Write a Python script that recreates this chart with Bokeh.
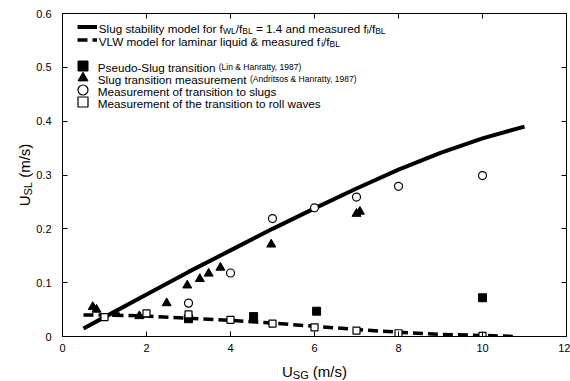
import math
from bokeh.plotting import figure
from bokeh.models import (Range1d, LinearAxis, FixedTicker, Label, Legend, LegendItem,
                          CustomJSTickFormatter)
from bokeh.embed import file_html
from bokeh.resources import INLINE

# ---------------- data ----------------
slug_model_x = [0.5, 1, 2, 3, 4, 5, 6, 7, 8, 9, 10, 11]
slug_model_y = [0.015, 0.036, 0.078, 0.12, 0.16, 0.2, 0.238, 0.275, 0.31, 0.341, 0.368, 0.39]

vlw_model_x = [0.5, 1, 2, 3, 4, 5, 6, 7, 8, 9, 10, 10.8]
vlw_model_y = [0.04, 0.04, 0.038, 0.034, 0.03, 0.025, 0.019, 0.013, 0.008, 0.004, 0.002, 0.0]

pseudo_slug_x = [3.0, 4.55, 6.05, 10.0]
pseudo_slug_y = [0.033, 0.037, 0.047, 0.072]

andritsos_x = [0.72, 0.81, 1.29, 1.83, 2.48, 2.97, 3.27, 3.48, 3.76, 4.97, 7.0, 7.08]
andritsos_y = [0.055, 0.05, 0.042, 0.038, 0.062, 0.095, 0.107, 0.117, 0.128, 0.171, 0.228, 0.232]

slug_meas_x = [3.0, 4.0, 5.0, 6.0, 7.0, 8.0, 10.0]
slug_meas_y = [0.062, 0.118, 0.219, 0.239, 0.259, 0.279, 0.299]

roll_x = [1.0, 2.0, 3.0, 4.0, 5.0, 6.0, 7.0, 8.0, 10.0]
roll_y = [0.036, 0.043, 0.041, 0.031, 0.024, 0.017, 0.011, 0.006, 0.001]

x_ticks = [0, 2, 4, 6, 8, 10, 12]
y_ticks = [0, 0.1, 0.2, 0.3, 0.4, 0.5, 0.6]
y_tick_labels = ["0", "0.1", "0.2", "0.3", "0.4", "0.5", "0.6"]

X_MIN, X_MAX, Y_MIN, Y_MAX = 0, 12, 0, 0.6
FRAME_W, FRAME_H = 504, 323

FONT = "Liberation Sans"

# Arial / Liberation Sans advance widths (per 1000 em) for layout of rich text
W = {' ': 278, '(': 333, ')': 333, ',': 278, '-': 333, '.': 278, '/': 278, '=': 584, '&': 667,
     'A': 667, 'B': 667, 'C': 722, 'D': 722, 'E': 667, 'F': 611, 'G': 778, 'H': 722, 'I': 278,
     'L': 556, 'M': 833, 'P': 667, 'R': 722, 'S': 667, 'U': 722, 'V': 667, 'W': 944,
     'a': 556, 'b': 556, 'c': 500, 'd': 556, 'e': 556, 'f': 278, 'g': 556, 'h': 556, 'i': 222,
     'k': 500, 'l': 222, 'm': 833, 'n': 556, 'o': 556, 'p': 556, 'r': 333, 's': 500, 't': 278,
     'u': 556, 'v': 500, 'w': 722, 'y': 500}


def tw(s, size):
    return sum(W.get(c, 556) for c in s) * size / 1000.0


p = figure(frame_width=FRAME_W, frame_height=FRAME_H, output_backend="svg", toolbar_location=None,
           x_range=Range1d(X_MIN, X_MAX), y_range=Range1d(Y_MIN, Y_MAX),
           min_border_left=62, min_border_right=4, min_border_top=13, min_border_bottom=45)
p.grid.visible = False
p.outline_line_color = "black"
p.outline_line_width = 1
p.background_fill_color = "white"
p.border_fill_color = "white"


def style_axis(ax, ticks, show_labels, overrides=None):
    ax.ticker = FixedTicker(ticks=ticks)
    ax.major_tick_in = 5
    ax.major_tick_out = 0
    ax.minor_tick_line_color = None
    ax.axis_line_color = "black"
    ax.major_tick_line_color = "black"
    ax.major_label_text_font = FONT
    ax.major_label_text_color = "black"
    ax.major_label_text_font_size = "11px"
    if show_labels:
        if overrides:
            ax.major_label_overrides = overrides
    else:
        ax.formatter = CustomJSTickFormatter(code="return ''")
        ax.major_label_standoff = 0
        ax.major_label_text_font_size = "1px"


style_axis(p.xaxis[0], x_ticks, True)
p.xaxis[0].major_label_standoff = 7
style_axis(p.yaxis[0], y_ticks, True, {t: l for t, l in zip(y_ticks, y_tick_labels)})
p.yaxis[0].major_label_standoff = 11

top_ax = LinearAxis()
style_axis(top_ax, x_ticks, False)
p.add_layout(top_ax, "above")
right_ax = LinearAxis()
style_axis(right_ax, y_ticks, False)
p.add_layout(right_ax, "right")

# ---------------- glyphs ----------------
r_slug = p.line(slug_model_x, slug_model_y, line_width=4, line_color="black")
r_vlw = p.line(vlw_model_x, vlw_model_y, line_width=3.5, line_color="black", line_dash="10 5")
r_pseudo = p.scatter(pseudo_slug_x, pseudo_slug_y, marker="square", size=8,
                     fill_color="black", line_color="black")
r_andr = p.scatter(andritsos_x, andritsos_y, marker="triangle", size=9,
                   fill_color="black", line_color="black")
r_circ = p.scatter(slug_meas_x, slug_meas_y, marker="circle", size=8,
                   fill_color="white", line_color="black", line_width=1.2)
r_roll = p.scatter(roll_x, roll_y, marker="square", size=7,
                   fill_color="white", line_color="black", line_width=1.2)


# ---------------- legend icons ----------------
def icon(renderer, vx, vy, gw, gh):
    lg = Legend(items=[LegendItem(label=" ", renderers=[renderer])],
                location=(vx, vy), glyph_width=gw, glyph_height=gh,
                padding=0, margin=0, spacing=0, label_standoff=0, label_width=0,
                label_height=0, label_text_font_size="1px",
                border_line_color=None, background_fill_alpha=0)
    p.add_layout(lg)


icon(r_slug, 14.7, 297.2, 20, 25)
icon(r_vlw, 14.7, 284.2, 20, 25)
icon(r_pseudo, 8.2, 257.8, 25, 25)
icon(r_andr, 8.2, 246.2, 25, 25)
icon(r_circ, 8.2, 234.2, 25, 25)
icon(r_roll, 8.2, 222.2, 25, 25)


# ---------------- rich texts ----------------
def rich(pieces, x, y, angle=0.0, anchor="left", outside=False):
    """x, y: frame pixel offsets (from frame bottom-left, y up)."""
    total = sum(tw(t, s) for t, s, d in pieces)
    pos = 0.0 if anchor == "left" else -total / 2.0
    ca, sa = math.cos(angle), math.sin(angle)
    for t, s, d in pieces:
        lead = len(t) - len(t.lstrip(" "))
        ppos = pos + tw(t[:lead], s)
        px = x + ca * ppos + sa * d
        py = y + sa * ppos - ca * d
        kw = dict(text=t.strip(" "), angle=angle, text_font=FONT, text_font_size=f"{s}px",
                  text_color="black", text_align="left", text_baseline="alphabetic")
        if outside:
            # side-panel annotations are not clipped to the frame; place them in data units
            lab = Label(x=X_MIN + px / FRAME_W * (X_MAX - X_MIN),
                        y=Y_MIN + py / FRAME_H * (Y_MAX - Y_MIN),
                        x_units="data", y_units="data", **kw)
            p.add_layout(lab, "below")
        else:
            p.add_layout(Label(x=px, y=py, x_units="screen", y_units="screen", **kw))
        pos += tw(t, s)


M, S, D, P = 11.7, 8.5, 3.0, 8.5
rich([("Slug stability model for f", M, 0), ("WL", S, D), ("/f", M, 0), ("BL", S, D),
      (" = 1.4 and measured f", M, 0), ("i", S, D), ("/f", M, 0), ("BL", S, D)], 36.3, 308.5)
rich([("VLW model for laminar liquid & measured f", M, 0), ("i", S, D), ("/f", M, 0),
      ("BL", S, D)], 36.3, 295.3)
rich([("Pseudo-Slug transition ", M, 0), ("(Lin & Hanratty, 1987)", P, 0)], 35.3, 269.1)
rich([("Slug transition measurement ", M, 0), ("(Andritsos & Hanratty, 1987)", P, 0)], 35.3, 257.5)
rich([("Measurement of transition to slugs", M, 0)], 35.3, 245.5)
rich([("Measurement of the transition to roll waves", M, 0)], 35.3, 233.5)

# axis titles
A, AS, AD = 15, 11, 3.0
rich([("U", A, 0), ("SG", AS, AD), (" (m/s)", A, 0)], 252, -35, 0.0, "center", outside=True)
rich([("U", A, 0), ("SL", AS, AD), (" (m/s)", A, 0)], -38, 161.5, math.pi / 2, "center",
     outside=True)

open("out.html", "w").write(file_html(p, INLINE))
